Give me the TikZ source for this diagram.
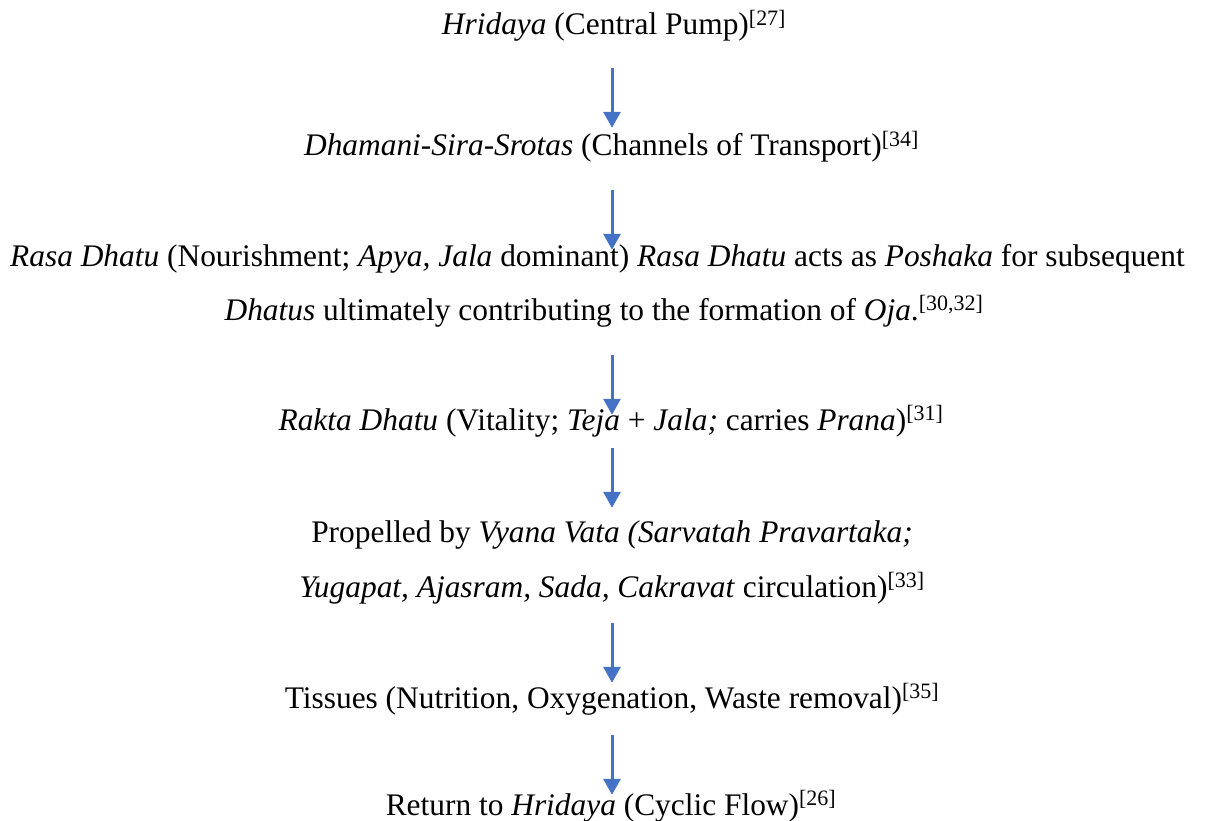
\documentclass[tikz,border=0pt]{standalone}
\usepackage{fontspec}
\setmainfont{Liberation Serif}
\usetikzlibrary{arrows.meta}
\definecolor{arrblue}{HTML}{4472C4}
\tikzset{
  lbl/.style={anchor=base, inner sep=0pt, text height=22pt, text depth=7pt,
    font=\fontsize{31.4}{37}\selectfont},
  arr/.style={draw=arrblue, line width=3pt,
    -{Triangle[width=17pt,length=16pt,fill=arrblue]}}
}
\begin{document}
\begin{tikzpicture}[x=1pt,y=-1pt]
\path[use as bounding box] (0,0) rectangle (1215,821);
\coordinate (ax) at (612,0);
\node[lbl] (n1) at (614,35) {\textit{Hridaya} (Central Pump)\textsuperscript{[27]}};
\node[lbl] (n2) at (611.5,156) {\textit{Dhamani-Sira-Srotas} (Channels of Transport)\textsuperscript{[34]}};
\node[lbl] (n3a) at (597.5,266) {\textit{Rasa Dhatu} (Nourishment; \textit{Apya, Jala} dominant) \textit{Rasa Dhatu} acts as \textit{Poshaka} for subsequent};
\node[lbl] (n3b) at (604,320) {\textit{Dhatus} ultimately contributing to the formation of \textit{Oja}.\textsuperscript{[30,32]}};
\node[lbl] (n5) at (611,430) {\textit{Rakta Dhatu} (Vitality; \textit{Teja} + \textit{Jala;} carries \textit{Prana})\textsuperscript{[31]}};
\node[lbl] (n6a) at (612,542) {Propelled by \textit{Vyana Vata (Sarvatah Pravartaka;}};
\node[lbl] (n6b) at (612,597) {\textit{Yugapat, Ajasram, Sada, Cakravat} circulation)\textsuperscript{[33]}};
\node[lbl] (n8) at (612,708) {Tissues (Nutrition, Oxygenation, Waste removal)\textsuperscript{[35]}};
\node[lbl] (n9) at (611,815) {Return to \textit{Hridaya} (Cyclic Flow)\textsuperscript{[26]}};
\draw[arr, shorten <=26pt, shorten >=6pt] (n1.south -| ax) -- (n2.north -| ax);
\draw[arr, shorten <=27pt, shorten >=-6pt] (n2.south -| ax) -- (n3a.north -| ax);
\draw[arr, shorten <=28pt, shorten >=-7pt] (n3b.south -| ax) -- (n5.north -| ax);
\draw[arr, shorten <=11pt, shorten >=12pt] (n5.south -| ax) -- (n6a.north -| ax);
\draw[arr, shorten <=19pt, shorten >=3pt] (n6b.south -| ax) -- (n8.north -| ax);
\draw[arr, shorten <=20pt, shorten >=-2pt] (n8.south -| ax) -- (n9.north -| ax);
\end{tikzpicture}
\end{document}
